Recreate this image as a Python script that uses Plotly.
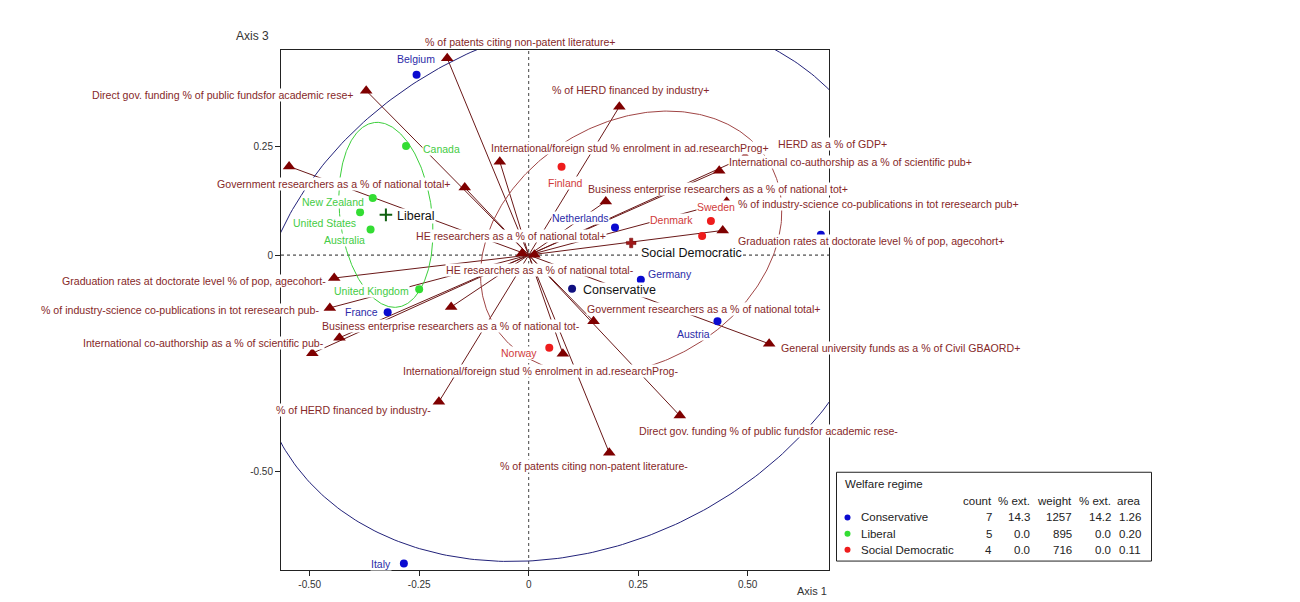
import numpy as np
import plotly.graph_objects as go

# ---------------- data ----------------
countries = ["Belgium", "Canada", "New Zealand", "United States", "Australia", "United Kingdom",
             "France", "Italy", "Netherlands", "Germany", "Austria", "Switzerland",
             "Finland", "Sweden", "Denmark", "Norway"]
regime = ["Conservative", "Liberal", "Liberal", "Liberal", "Liberal", "Liberal",
          "Conservative", "Conservative", "Conservative", "Conservative", "Conservative", "Conservative",
          "Social Democratic", "Social Democratic", "Social Democratic", "Social Democratic"]
country_x = [-0.256, -0.280, -0.356, -0.385, -0.361, -0.250, -0.322, -0.285,
             0.197, 0.256, 0.431, 0.667, 0.075, 0.416, 0.396, 0.047]
country_y = [0.417, 0.252, 0.132, 0.099, 0.059, -0.079, -0.132, -0.713,
             0.064, -0.057, -0.153, 0.047, 0.204, 0.079, 0.044, -0.214]

groups = ["Conservative", "Liberal", "Social Democratic"]
centroid_x = [0.099, -0.326, 0.234]
centroid_y = [-0.078, 0.093, 0.028]
ellipse_a = [0.754, 0.215, 0.366]
ellipse_b = [0.593, 0.105, 0.278]
ellipse_angle = [27.2, 97.0, 31.7]

var_names = [
    "% of patents citing non-patent literature+",
    "% of patents citing non-patent literature-",
    "Direct gov. funding % of public fundsfor academic rese+",
    "Direct gov. funding % of public fundsfor academic rese-",
    "% of HERD financed by industry+",
    "% of HERD financed by industry-",
    "International/foreign stud % enrolment in ad.researchProg+",
    "International/foreign stud % enrolment in ad.researchProg-",
    "HERD as a % of GDP+",
    "HERD as a % of GDP-",
    "International co-authorship as a % of scientific pub+",
    "International co-authorship as a % of scientific pub-",
    "Business enterprise researchers as a % of national tot+",
    "Business enterprise researchers as a % of national tot-",
    "% of industry-science co-publications in tot reresearch pub+",
    "% of industry-science co-publications in tot reresearch pub-",
    "Graduation rates at doctorate level % of pop, agecohort+",
    "Graduation rates at doctorate level % of pop, agecohort-",
    "Government researchers as a % of national total+",
    "Government researchers as a % of national total+",
    "General university funds as a % of Civil GBAORD-",
    "General university funds as a % of Civil GBAORD+",
    "HE researchers as a % of national total+",
    "HE researchers as a % of national total-",
]
var_x = [-0.186, 0.184, -0.371, 0.345, 0.207, -0.205, -0.066, 0.078, 0.494, -0.494,
         0.435, -0.432, 0.176, -0.177, 0.452, -0.454, 0.443, -0.444, -0.146, 0.148,
         -0.547, 0.549, -0.015, 0.013]
var_y = [0.455, -0.457, 0.380, -0.371, 0.343, -0.339, 0.216, -0.228, 0.227, -0.227,
         0.195, -0.191, 0.124, -0.120, 0.123, -0.122, 0.057, -0.053, 0.156, -0.153,
         0.205, -0.205, 0.004, 0.001]

legend_count = ["7", "5", "4"]
legend_ext1 = ["14.3", "0.0", "0.0"]
legend_weight = ["1257", "895", "716"]
legend_ext2 = ["14.2", "0.0", "0.0"]
legend_area = ["1.26", "0.20", "0.11"]
legend_headers = ["count", "% ext.", "weight", "% ext.", "area"]

x_ticks = [-0.5, -0.25, 0, 0.25, 0.5]
x_ticklabels = ["-0.50", "-0.25", "0", "0.25", "0.50"]
y_ticks = [0.25, 0, -0.5]
y_ticklabels = ["0.25", "0", "-0.50"]

# ---------------- layout / style ----------------
FONT = "Liberation Sans, Arial, sans-serif"
OFF = 8  # page body margin
W, H = 1300 - OFF, 602 - OFF
# plot-area edges in page pixels
PL, PR, PT, PB = 281, 829, 50, 574
L, R, T, B = PL - OFF, PR - OFF, PT - OFF, PB - OFF
XR = [-0.5655, 0.6856]
YR = [-0.7278, 0.474]

dot_col = {"Conservative": "#0a0ad0", "Liberal": "#33dd33", "Social Democratic": "#ee1c1c"}
lab_col = {"Conservative": "#2b2ba8", "Liberal": "#44cc44", "Social Democratic": "#d03a3a"}
ell_col = {"Conservative": "#22227a", "Liberal": "#3ccf3c", "Social Democratic": "#a04545"}
VAR_COL = "#7f0000"
VAR_TXT = "#862828"
LINE_COL = "#6a1818"

country_label_pos = {
    "Belgium": (-0.258, 0.453, "center"),
    "Canada": (-0.244, 0.246, "left"),
    "New Zealand": (-0.373, 0.122, "right"),
    "United States": (-0.393, 0.074, "right"),
    "Australia": (-0.372, 0.034, "right"),
    "United Kingdom": (-0.271, -0.082, "right"),
    "France": (-0.342, -0.132, "right"),
    "Italy": (-0.313, -0.715, "right"),
    "Netherlands": (0.119, 0.086, "center"),
    "Germany": (0.269, -0.044, "left"),
    "Austria": (0.377, -0.183, "center"),
    "Switzerland": (0.703, 0.073, "center"),
    "Finland": (0.085, 0.166, "center"),
    "Sweden": (0.428, 0.112, "center"),
    "Denmark": (0.326, 0.080, "center"),
    "Norway": (-0.022, -0.227, "center"),
}
var_label_pos = [
    (-0.018, 0.492, "center"), (0.148, -0.488, "center"),
    (-0.396, 0.371, "right"), (0.250, -0.407, "left"),
    (0.234, 0.382, "center"), (-0.399, -0.359, "center"),
    (0.232, 0.247, "center"), (0.026, -0.267, "center"),
    (0.567, 0.256, "left"), (-0.567, -0.256, "center"),
    (0.455, 0.214, "left"), (-0.465, -0.204, "right"),
    (0.133, 0.153, "left"), (-0.178, -0.164, "center"),
    (0.476, 0.117, "left"), (-0.477, -0.126, "right"),
    (0.475, 0.032, "left"), (-0.461, -0.059, "right"),
    (-0.178, 0.164, "right"), (0.400, -0.124, "center"),
    (-0.572, 0.204, "right"), (0.574, -0.214, "left"),
    (-0.040, 0.044, "center"), (0.026, -0.034, "center"),
]
centroid_label_pos = [(0.121, -0.080), (-0.304, 0.090), (0.253, 0.004)]


def pxp(xp):
    """page pixel x -> paper coordinate"""
    return (xp - PL) / (PR - PL)


def pyp(yp):
    """page pixel y -> paper coordinate"""
    return (PB - yp) / (PB - PT)


def ypaper(y):
    """data y -> paper coordinate (so labels outside the range still show)"""
    return (y - YR[0]) / (YR[1] - YR[0])


fig = go.Figure()

# arrows from origin to supplementary categories
lx, ly = [], []
for x, y in zip(var_x, var_y):
    lx += [0, x, None]
    ly += [0, y, None]
fig.add_trace(go.Scatter(x=lx, y=ly, mode="lines", line=dict(color=LINE_COL, width=1),
                         hoverinfo="skip", showlegend=False))

# ellipses
t = np.linspace(0, 2 * np.pi, 400)
for g, cxv, cyv, a, b, ang in zip(groups, centroid_x, centroid_y, ellipse_a, ellipse_b, ellipse_angle):
    th = np.deg2rad(ang)
    ex = cxv + a * np.cos(t) * np.cos(th) - b * np.sin(t) * np.sin(th)
    ey = cyv + a * np.cos(t) * np.sin(th) + b * np.sin(t) * np.cos(th)
    fig.add_trace(go.Scatter(x=ex, y=ey, mode="lines", line=dict(color=ell_col[g], width=1),
                             hoverinfo="skip", showlegend=False))

# triangles
fig.add_trace(go.Scatter(x=var_x, y=var_y, mode="markers",
                         marker=dict(symbol="triangle-up", size=11, color=VAR_COL),
                         text=var_names, hoverinfo="text", showlegend=False))

# countries
for g in groups:
    xs = [x for x, r in zip(country_x, regime) if r == g]
    ys = [y for y, r in zip(country_y, regime) if r == g]
    ns = [n for n, r in zip(countries, regime) if r == g]
    fig.add_trace(go.Scatter(x=xs, y=ys, mode="markers", marker=dict(size=8, color=dot_col[g]),
                             text=ns, hoverinfo="text", showlegend=False))

# centroids
fig.add_trace(go.Scatter(x=[centroid_x[0]], y=[centroid_y[0]], mode="markers",
                         marker=dict(size=8, color="#101080"), hoverinfo="skip", showlegend=False))
fig.add_trace(go.Scatter(x=[centroid_x[1]], y=[centroid_y[1]], mode="markers",
                         marker=dict(symbol="cross-thin", size=9, line=dict(width=2, color="#106010")),
                         hoverinfo="skip", showlegend=False))
fig.add_trace(go.Scatter(x=[centroid_x[2]], y=[centroid_y[2]], mode="markers",
                         marker=dict(symbol="cross", size=8, color="#a01818",
                                     line=dict(width=0.5, color="#6a0000")),
                         hoverinfo="skip", showlegend=False))

annotations = []
# variable labels
for name, (x, y, anc) in zip(var_names, var_label_pos):
    annotations.append(dict(x=x, y=ypaper(y), xref="x", yref="paper", text=name, showarrow=False,
                            xanchor=anc, yanchor="middle", bgcolor="white", borderpad=0,
                            font=dict(family=FONT, size=10.6, color=VAR_TXT)))
# country labels
for n, r in zip(countries, regime):
    x, y, anc = country_label_pos[n]
    annotations.append(dict(x=x, y=y, xref="x", yref="y", text=n, showarrow=False,
                            xanchor=anc, yanchor="middle", bgcolor="white", borderpad=0,
                            font=dict(family=FONT, size=10.5, color=lab_col[r])))
# centroid labels
for g, (x, y) in zip(groups, centroid_label_pos):
    annotations.append(dict(x=x, y=y, xref="x", yref="y", text=g, showarrow=False,
                            xanchor="left", yanchor="middle", bgcolor="white", borderpad=0,
                            font=dict(family=FONT, size=12.5, color="#111111")))

# axis titles
annotations.append(dict(x=pxp(252), y=pyp(35.5), xref="paper", yref="paper", text="Axis 3",
                        showarrow=False, xanchor="center", yanchor="middle",
                        font=dict(family=FONT, size=12, color="#333333")))
annotations.append(dict(x=pxp(812), y=pyp(595), xref="paper", yref="paper", text="Axis 1",
                        showarrow=False, xanchor="center", yanchor="middle",
                        font=dict(family=FONT, size=11, color="#333333")))

shapes = [
    dict(type="line", xref="x", yref="paper", x0=0, x1=0, y0=0, y1=1,
         line=dict(color="#444444", width=1, dash="3px,3px"), layer="below"),
    dict(type="line", xref="paper", yref="y", x0=0, x1=1, y0=0, y1=0,
         line=dict(color="#222222", width=1, dash="3px,3px"), layer="below"),
    dict(type="rect", xref="paper", yref="paper", x0=pxp(836.5), x1=pxp(1151.5),
         y0=pyp(565), y1=pyp(475.5), line=dict(color="#222222", width=1), fillcolor="white",
         layer="above"),
]
# legend table
LF = dict(family=FONT, size=11.5, color="#222222")
annotations.append(dict(x=pxp(843), y=pyp(487.5), xref="paper", yref="paper", text="Welfare regime",
                        showarrow=False, xanchor="left", yanchor="middle", font=LF))
col_right = [993.5, 1032, 1073.5, 1113, 1143]
row_y = [521, 537.5, 553.5]
for h, cr in zip(legend_headers, col_right):
    annotations.append(dict(x=pxp(cr), y=pyp(504.5), xref="paper", yref="paper", text=h,
                            showarrow=False, xanchor="right", yanchor="middle", font=LF))
for i, g in enumerate(groups):
    shapes.append(dict(type="circle", xref="paper", yref="paper", xsizemode="pixel", ysizemode="pixel",
                       xanchor=pxp(847.5), yanchor=pyp(row_y[i]), x0=-3, x1=3, y0=-3, y1=3,
                       fillcolor=dot_col[g], line=dict(width=0), layer="above"))
    annotations.append(dict(x=pxp(859), y=pyp(row_y[i]), xref="paper", yref="paper", text=g,
                            showarrow=False, xanchor="left", yanchor="middle", font=LF))
    vals = [legend_count[i], legend_ext1[i], legend_weight[i], legend_ext2[i], legend_area[i]]
    for v, cr in zip(vals, col_right):
        annotations.append(dict(x=pxp(cr), y=pyp(row_y[i]), xref="paper", yref="paper", text=v,
                                showarrow=False, xanchor="right", yanchor="middle", font=LF))

axis_common = dict(showgrid=False, zeroline=False, showline=True, linecolor="#222222", linewidth=1,
                   mirror=True, ticks="outside", ticklen=5, tickcolor="#222222",
                   tickfont=dict(family=FONT, size=10, color="#333333"))
fig.update_layout(
    width=W, height=H,
    margin=dict(l=L, r=W - R, t=T, b=H - B, pad=0),
    paper_bgcolor="white", plot_bgcolor="white",
    xaxis=dict(range=XR, tickvals=x_ticks, ticktext=x_ticklabels, **axis_common),
    yaxis=dict(range=YR, tickvals=y_ticks, ticktext=y_ticklabels, **axis_common),
    annotations=annotations, shapes=shapes, showlegend=False,
    font=dict(family=FONT),
)

fig.write_html("out.html")
